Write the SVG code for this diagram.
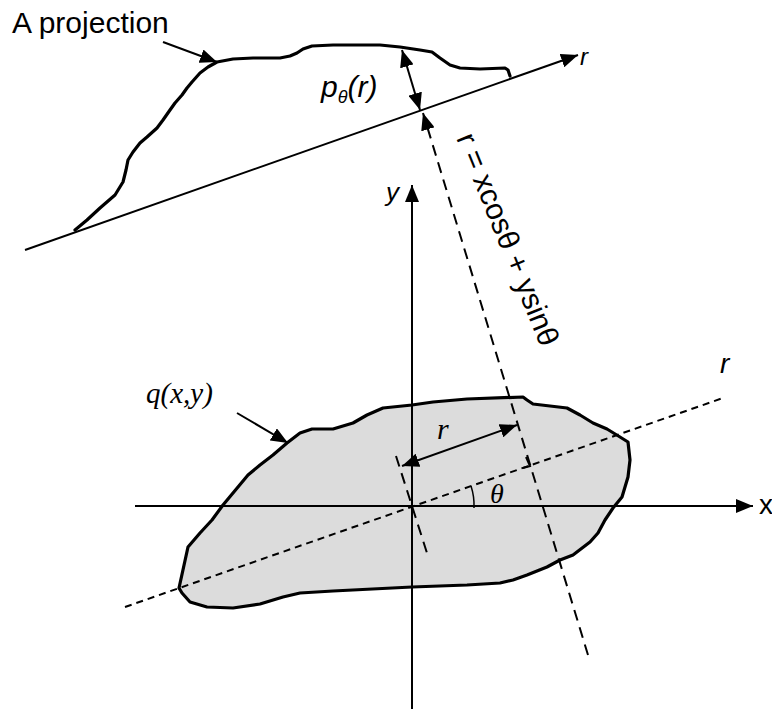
<svg xmlns="http://www.w3.org/2000/svg" width="772" height="709" viewBox="0 0 772 709">
<defs>
<style>
.sans{font-family:"Liberation Sans",Arial,sans-serif;fill:#000}
.serif{font-family:"Liberation Serif","Times New Roman",serif;font-style:italic;fill:#000}
.it{font-style:italic}
.thick{fill:none;stroke:#000;stroke-width:3.2;stroke-linejoin:round;stroke-linecap:round}
.line{fill:none;stroke:#000;stroke-width:2}
.dashL{fill:none;stroke:#000;stroke-width:2;stroke-dasharray:11 7}
.dashS{fill:none;stroke:#000;stroke-width:2;stroke-dasharray:7 5}
</style>
<marker id="ah" viewBox="0 0 17 14" refX="17" refY="7" markerWidth="17" markerHeight="14" markerUnits="userSpaceOnUse" orient="auto-start-reverse">
<path d="M0,0 L17,7 L0,14 Z" fill="#000" stroke="none"/>
</marker>
</defs>
<rect width="772" height="709" fill="#fff"/>

<g id="object">
<path class="thick" style="fill:#dcdcdc" d="M179,588 L188,547 L200,533 L212,520 L223,505 L233,493 L248,475 L260,465 L273,455 L287,443 L300,433 L312,429 L333,429 L353,423 L367,415 L383,408 L412,405 L433,402 L467,399 L523,397 L527,400 L533,404 L567,408 L580,415 L593,423 L607,429 L620,437 L628,442 L630,460 L628,477 L622,497 L613,508 L605,520 L598,533 L590,542 L573,555 L560,560 L547,567 L527,575 L513,580 L500,583 L467,585 L412,587 L333,591 L300,593 L283,597 L260,604 L233,608 L207,607 L190,602 L182,593 Z"/>
</g>

<g id="projection">
<path class="thick" d="M75,230 L87,220 L100,208 L115,195 L123,182 L126,170 L128,160 L133,152 L140,143 L147,137 L157,128 L163,120 L170,110 L175,103 L182,95 L187,88 L192,82 L200,73 L208,67 L217,62 L233,59 L253,58 L270,58 L280,58 L290,56 L297,53 L303,49 L312,46 L333,45 L360,45 L380,45 L400,47 L420,50 L432,52 L440,58 L450,65 L460,68 L480,69 L505,68 L508,70 L510,76"/>
</g>

<g id="connectors">
<line class="line" x1="25" y1="250" x2="578" y2="55" marker-end="url(#ah)"/>
<line class="line" x1="135" y1="506" x2="753" y2="506" marker-end="url(#ah)"/>
<line class="line" x1="412" y1="709" x2="412" y2="185" marker-end="url(#ah)"/>
<line class="dashS" x1="125" y1="607" x2="723" y2="398"/>
<line class="dashL" x1="396" y1="456" x2="427" y2="553"/>
<line class="dashL" x1="588" y1="655" x2="423" y2="113" marker-end="url(#ah)"/>
<path class="line" d="M526,457 L530,466 L523,468"/>
<line class="line" x1="402" y1="50" x2="420" y2="110" marker-start="url(#ah)" marker-end="url(#ah)"/>
<line class="line" x1="402" y1="466" x2="517" y2="425" marker-start="url(#ah)" marker-end="url(#ah)"/>
<line class="line" x1="163" y1="42" x2="217" y2="62" marker-end="url(#ah)"/>
<line class="line" x1="237" y1="413" x2="288" y2="443" marker-end="url(#ah)"/>
<path class="line" style="stroke-width:1.5" d="M474,508 A62,62 0 0 0 471,486"/>
</g>

<g id="labels">
<text class="sans" x="12" y="33" font-size="30">A projection</text>
<text class="sans it" x="321" y="97" font-size="30">p<tspan font-size="18" dy="6">θ</tspan><tspan dy="-6">(r)</tspan></text>
<text class="sans it" x="580" y="65" font-size="24">r</text>
<text class="sans" font-size="30" transform="translate(456,138) rotate(68)">r = xcosθ + ysinθ</text>
<text class="sans it" x="386" y="201" font-size="26">y</text>
<text class="sans it" x="720" y="373" font-size="28">r</text>
<text class="sans" x="759" y="514" font-size="28">x</text>
<text class="serif" x="146" y="403" font-size="29">q(x,y)</text>
<text class="serif" x="437" y="439" font-size="30">r</text>
<text class="serif" x="490" y="503" font-size="28">θ</text>
</g>
</svg>
